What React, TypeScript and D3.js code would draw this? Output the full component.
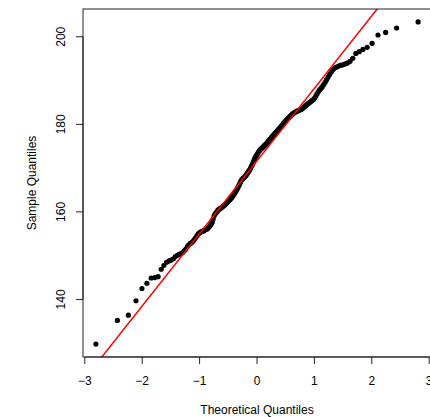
import React from "react";
import * as d3 from "d3";

// Sorted sample values, n = 200
const sampleValues: number[] = [
  129.8, 135.2, 136.4, 139.7, 142.5, 143.7, 144.9, 145.0, 145.2, 146.9,
  147.8, 148.5, 148.8, 149.0, 149.3, 149.8, 150.1, 150.3, 150.5, 150.7,
  151.1, 151.5, 152.1, 152.5, 152.8, 153.0, 153.3, 153.7, 154.1, 154.5,
  154.9, 155.2, 155.4, 155.5, 155.6, 155.7, 155.9, 156.0, 156.1, 156.3,
  156.6, 156.9, 157.2, 157.6, 158.4, 159.1, 159.5, 159.8, 160.0, 160.4,
  160.5, 160.7, 160.8, 161.0, 161.1, 161.3, 161.5, 161.6, 161.8, 162.0,
  162.2, 162.4, 162.6, 162.8, 163.0, 163.2, 163.4, 163.7, 163.9, 164.2,
  164.5, 164.8, 165.1, 165.4, 165.8, 166.1, 166.5, 166.8, 167.2, 167.4,
  167.6, 167.8, 167.9, 168.1, 168.3, 168.5, 168.8, 169.0, 169.3, 169.5,
  169.8, 170.2, 170.5, 170.8, 171.2, 171.6, 172.0, 172.4, 172.7, 172.9,
  173.2, 173.5, 173.8, 174.0, 174.2, 174.4, 174.5, 174.7, 174.8, 175.0,
  175.2, 175.3, 175.5, 175.7, 175.9, 176.1, 176.3, 176.5, 176.7, 176.9,
  177.1, 177.3, 177.5, 177.7, 177.9, 178.1, 178.3, 178.5, 178.6, 178.9,
  179.1, 179.3, 179.5, 179.7, 179.9, 180.2, 180.4, 180.6, 180.8, 181.0,
  181.2, 181.4, 181.6, 181.8, 182.0, 182.2, 182.4, 182.5, 182.7, 182.8,
  182.9, 183.0, 183.1, 183.2, 183.3, 183.4, 183.5, 183.7, 183.9, 184.1,
  184.3, 184.5, 184.7, 184.9, 185.1, 185.3, 185.5, 185.7, 186.0, 186.5,
  187.0, 187.5, 187.9, 188.2, 188.6, 189.1, 189.6, 190.2, 190.8, 191.4,
  192.0, 192.5, 192.9, 193.1, 193.3, 193.5, 193.6, 193.8, 194.0, 194.4,
  195.1, 196.2, 196.6, 197.1, 197.6, 198.5, 200.4, 201.0, 202.0, 203.4,
];

const xTicks: number[] = [-3, -2, -1, 0, 1, 2, 3];
const yTicks: number[] = [140, 160, 180, 200];
const xTitle = "Theoretical Quantiles";
const yTitle = "Sample Quantiles";

// Inverse standard normal CDF (Acklam)
function qnorm(p: number): number {
  const a = [-3.969683028665376e1, 2.209460984245205e2, -2.759285104469687e2, 1.38357751867269e2, -3.066479806614716e1, 2.506628277459239];
  const b = [-5.447609879822406e1, 1.615858368580409e2, -1.556989798598866e2, 6.680131188771972e1, -1.328068155288572e1];
  const c = [-7.784894002430293e-3, -3.223964580411365e-1, -2.400758277161838, -2.549732539343734, 4.374664141464968, 2.938163982698783];
  const d = [7.784695709041462e-3, 3.224671290700398e-1, 2.445134137142996, 3.754408661907416];
  const pl = 0.02425;
  if (p < pl) {
    const q = Math.sqrt(-2 * Math.log(p));
    return (((((c[0] * q + c[1]) * q + c[2]) * q + c[3]) * q + c[4]) * q + c[5]) / ((((d[0] * q + d[1]) * q + d[2]) * q + d[3]) * q + 1);
  }
  if (p > 1 - pl) return -qnorm(1 - p);
  const q = p - 0.5;
  const r = q * q;
  return ((((((a[0] * r + a[1]) * r + a[2]) * r + a[3]) * r + a[4]) * r + a[5]) * q) / (((((b[0] * r + b[1]) * r + b[2]) * r + b[3]) * r + b[4]) * r + 1);
}

const W = 430;
const H = 417;
const left = 83;
const right = 431;
const top = 9;
const bottom = 357;

export default function App() {
  const n = sampleValues.length;
  const sorted = [...sampleValues].sort((a, b) => a - b);
  const theo = sorted.map((_, i) => qnorm((i + 0.5) / n));
  const pts = sorted.map((v, i) => ({ x: theo[i], y: v }));

  const ext = (lo: number, hi: number): [number, number] => {
    const e = (hi - lo) * 0.04;
    return [lo - e, hi + e];
  };
  const xDom = ext(d3.min(theo)!, d3.max(theo)!);
  const yDom = ext(d3.min(sorted)!, d3.max(sorted)!);
  const x = d3.scaleLinear().domain(xDom).range([left, right]);
  const y = d3.scaleLinear().domain(yDom).range([bottom, top]);

  // qqline through 1st and 3rd quartiles
  const q1 = d3.quantile(sorted, 0.25)!;
  const q3 = d3.quantile(sorted, 0.75)!;
  const t1 = qnorm(0.25);
  const t3 = qnorm(0.75);
  const slope = (q3 - q1) / (t3 - t1);
  const intercept = q1 - slope * t1;
  const lineGen = d3
    .line<number>()
    .x((t) => x(t))
    .y((t) => y(intercept + slope * t));

  const font = "'Liberation Sans', Arial, Helvetica, sans-serif";
  const fmt = (v: number) => (v < 0 ? "\u2212" + Math.abs(v) : String(v));

  return (
    <svg
      width={W}
      height={H}
      style={{ position: "absolute", left: 0, top: 0, background: "#fff" }}
      fontFamily={font}
    >
      <defs>
        <clipPath id="plotclip">
          <rect x={left} y={top} width={right - left} height={bottom - top} />
        </clipPath>
      </defs>
      <rect x={0} y={0} width={W} height={H} fill="#fff" />
      {/* points */}
      <g fill="#000">
        {pts.map((p, i) => (
          <circle key={i} cx={x(p.x)} cy={y(p.y)} r={2.6} />
        ))}
      </g>
      {/* qq line */}
      <g clipPath="url(#plotclip)">
        <path d={lineGen([xDom[0], xDom[1]]) || ""} stroke="#ff0000" strokeWidth={1.5} fill="none" />
      </g>
      {/* box */}
      <rect x={left} y={top} width={right - left} height={bottom - top} fill="none" stroke="#222" strokeWidth={1} />
      {/* x axis */}
      <g stroke="#222" strokeWidth={1}>
        <line x1={x(xTicks[0])} x2={x(xTicks[xTicks.length - 1])} y1={bottom} y2={bottom} />
        {xTicks.map((t) => (
          <line key={t} x1={x(t)} x2={x(t)} y1={bottom} y2={bottom + 7} />
        ))}
      </g>
      <g fontSize={12} textAnchor="middle" fill="#000">
        {xTicks.map((t) => (
          <text key={t} x={x(t)} y={385}>
            {fmt(t)}
          </text>
        ))}
      </g>
      {/* y axis */}
      <g stroke="#222" strokeWidth={1}>
        <line x1={left} x2={left} y1={y(yTicks[0])} y2={y(yTicks[yTicks.length - 1])} />
        {yTicks.map((t) => (
          <line key={t} x1={left - 7} x2={left} y1={y(t)} y2={y(t)} />
        ))}
      </g>
      <g fontSize={12} textAnchor="middle" fill="#000">
        {yTicks.map((t) => (
          <text key={t} transform={`translate(65,${y(t)}) rotate(-90)`}>
            {fmt(t)}
          </text>
        ))}
      </g>
      <text x={(left + right) / 2} y={414} fontSize={12} textAnchor="middle" fill="#000">
        {xTitle}
      </text>
      <text transform={`translate(36,${(top + bottom) / 2}) rotate(-90)`} fontSize={12} textAnchor="middle" fill="#000">
        {yTitle}
      </text>
    </svg>
  );
}
